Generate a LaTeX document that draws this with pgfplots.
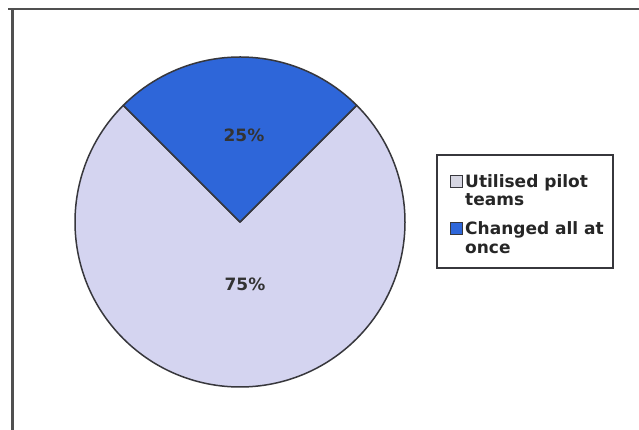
\documentclass[border=0pt]{standalone}
\usepackage{pgfplots}
\usepackage{pgfplotstable}
\pgfplotsset{compat=1.18}
\usepackage{fontspec}
\setmainfont{DejaVu Sans}
\definecolor{lav}{RGB}{212,212,240}
\definecolor{pieblue}{RGB}{46,102,217}
\definecolor{edge}{RGB}{55,55,60}
\definecolor{frame}{RGB}{80,80,80}
\pgfplotstableread{
label value
Utilised 75
Changed 25
}\piedata
\begin{document}
\begin{tikzpicture}
\begin{axis}[
  x=1pt, y=1pt, xmin=0, xmax=639, ymin=0, ymax=430,
  hide axis, clip=false, scale only axis,
  anchor=origin, at={(0,0)}
]
\coordinate (BL) at (axis cs:0,0);
\coordinate (TR) at (axis cs:639,430);
\pgfplotstablegetelem{0}{value}\of\piedata \edef\va{\pgfplotsretval}
\pgfplotstablegetelem{1}{value}\of\piedata \edef\vb{\pgfplotsretval}
\pgfmathsetmacro{\sb}{45}
\pgfmathsetmacro{\eb}{45+3.6*\vb}
\pgfmathsetmacro{\ea}{\eb+3.6*\va}
% frame
\fill[white] (axis cs:0,0) rectangle (axis cs:639,430);
\draw[frame, line width=2.5pt] (axis cs:8,421) -- (axis cs:639,421);
\draw[frame, line width=2.5pt] (axis cs:12.5,421) -- (axis cs:12.5,0);
% pie
\filldraw[fill=lav, draw=edge, line width=1.5pt, line join=round]
  (axis cs:240,208) -- ++(\eb:165pt) arc[start angle=\eb, end angle=\ea, radius=165pt] -- cycle;
\filldraw[fill=pieblue, draw=edge, line width=1.5pt, line join=round]
  (axis cs:240,208) -- ++(\sb:165pt) arc[start angle=\sb, end angle=\eb, radius=165pt] -- cycle;
\node[anchor=base, font=\fontsize{17}{18}\selectfont\bfseries, text=black!80, inner sep=0pt] at (axis cs:244,288) {\vb\%};
\node[anchor=base, font=\fontsize{17}{18}\selectfont\bfseries, text=black!80, inner sep=0pt] at (axis cs:245,139) {\va\%};
% legend
\draw[edge, line width=1.1pt, fill=white] (axis cs:437,275) rectangle (axis cs:613,162);
\filldraw[fill=lav!70!gray!60, draw=edge, line width=0.8pt] (axis cs:450,243) rectangle (axis cs:462,255);
\filldraw[fill=pieblue, draw=edge, line width=0.8pt] (axis cs:450,196) rectangle (axis cs:462,208);
\begin{scope}[every node/.style={anchor=base west, inner sep=0pt, font=\fontsize{17}{18}\selectfont\bfseries, text=black!85}]
\node at (axis cs:465,242) {Utilised pilot};
\node at (axis cs:465,224) {teams};
\node at (axis cs:465,195) {Changed all at};
\node at (axis cs:465,176) {once};
\end{scope}
\end{axis}
\pgfresetboundingbox
\useasboundingbox (BL) rectangle (TR);
\end{tikzpicture}
\end{document}
